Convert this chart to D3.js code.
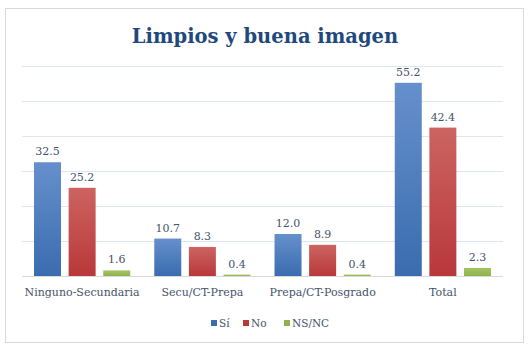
<!DOCTYPE html>
<html>
<head>
<meta charset="utf-8">
<script src="https://cdn.jsdelivr.net/npm/d3@7"></script>
<style>
  body { margin: 0; background: #fff; }
  text { font-family: "DejaVu Serif", serif; }
</style>
</head>
<body>
<div id="chart"></div>
<script>
var categories = ['Ninguno-Secundaria', 'Secu/CT-Prepa', 'Prepa/CT-Posgrado', 'Total'];
var seriesNames = ['Sí', 'No', 'NS/NC'];
var si = [32.5, 10.7, 12.0, 55.2];
var no = [25.2, 8.3, 8.9, 42.4];
var nsnc = [1.6, 0.4, 0.4, 2.3];
var gridTicks = [0, 10, 20, 30, 40, 50, 60];

var seriesValues = [si, no, nsnc];
var colors = [
  {top: '#6690cc', bottom: '#3a6caf'},
  {top: '#cc6461', bottom: '#b9383a'},
  {top: '#a5c466', bottom: '#90b24c'}
];

var width = 528,
    height = 347;

var margin = {left: 22, right: 25, top: 66, bottom: 71};

var svg = d3.select('#chart').append('svg')
  .attr('width', width)
  .attr('height', height);

var defs = svg.append('defs');
colors.forEach(function(c, i) {
  var g = defs.append('linearGradient')
    .attr('id', 'grad' + i)
    .attr('x1', 0).attr('y1', 0).attr('x2', 0).attr('y2', 1);
  g.append('stop').attr('offset', '0%').attr('stop-color', c.top);
  g.append('stop').attr('offset', '100%').attr('stop-color', c.bottom);
});

// chart frame
svg.append('rect')
  .attr('x', 5.5).attr('y', 8.5)
  .attr('width', 518).attr('height', 334)
  .attr('fill', '#fff')
  .attr('stroke', '#d9d9d9');

svg.append('text')
  .attr('x', 265)
  .attr('y', 43)
  .attr('text-anchor', 'middle')
  .style('font-size', '19.5px')
  .style('font-weight', 'bold')
  .style('fill', '#1f497d')
  .text('Limpios y buena imagen');

var x0 = d3.scaleBand()
  .domain(categories)
  .range([margin.left, width - margin.right])
  .paddingInner(0.2)
  .paddingOuter(0.1);

var x1 = d3.scaleBand()
  .domain(seriesNames)
  .range([0, x0.bandwidth()])
  .paddingInner(0.22);

var y = d3.scaleLinear()
  .domain([0, 60])
  .range([height - margin.bottom, margin.top]);

svg.append('g')
  .selectAll('line')
  .data(gridTicks)
  .enter()
  .append('line')
  .attr('x1', margin.left)
  .attr('x2', width - margin.right)
  .attr('y1', function(d) { return Math.round(y(d)) + 0.5; })
  .attr('y2', function(d) { return Math.round(y(d)) + 0.5; })
  .attr('stroke', function(d) { return d === 0 ? '#d9d9d9' : '#dde5f0'; });

var rows = [];
categories.forEach(function(c, i) {
  seriesNames.forEach(function(s, j) {
    rows.push({cat: c, series: s, idx: j, value: seriesValues[j][i]});
  });
});

var bars = svg.append('g')
  .selectAll('.bar')
  .data(rows)
  .enter()
  .append('g').attr('class', 'bar');

bars.append('rect')
  .attr('x', function(d) { return x0(d.cat) + x1(d.series); })
  .attr('y', function(d) { return y(d.value); })
  .attr('width', x1.bandwidth())
  .attr('height', function(d) { return y(0) - y(d.value); })
  .attr('fill', function(d) { return 'url(#grad' + d.idx + ')'; });

bars.append('text')
  .attr('x', function(d) { return x0(d.cat) + x1(d.series) + x1.bandwidth() / 2; })
  .attr('y', function(d) { return y(d.value) - 7; })
  .attr('text-anchor', 'middle')
  .style('font-size', '11px')
  .style('fill', '#44546a')
  .text(function(d) { return d.value.toFixed(1); });

var xAxis = svg.append('g')
  .attr('transform', 'translate(0,' + y(0) + ')')
  .call(d3.axisBottom(x0).tickSize(0).tickPadding(12));
xAxis.select('.domain').remove();
xAxis.selectAll('text')
  .style('font-family', '"DejaVu Serif", serif')
  .style('font-size', '11px')
  .style('fill', '#44546a');

var legendX = [211, 243, 284];
var legend = svg.append('g')
  .selectAll('.legend')
  .data(seriesNames)
  .enter()
  .append('g').attr('class', 'legend')
  .attr('transform', function(d, i) { return 'translate(' + legendX[i] + ',323)'; });

legend.append('rect')
  .attr('x', 0).attr('y', -3)
  .attr('width', 6).attr('height', 6)
  .attr('fill', function(d, i) { return colors[i].bottom; });

legend.append('text')
  .attr('x', 8)
  .attr('y', 4)
  .style('font-size', '10.5px')
  .style('fill', '#44546a')
  .text(function(d) { return d; });
</script>
</body>
</html>
